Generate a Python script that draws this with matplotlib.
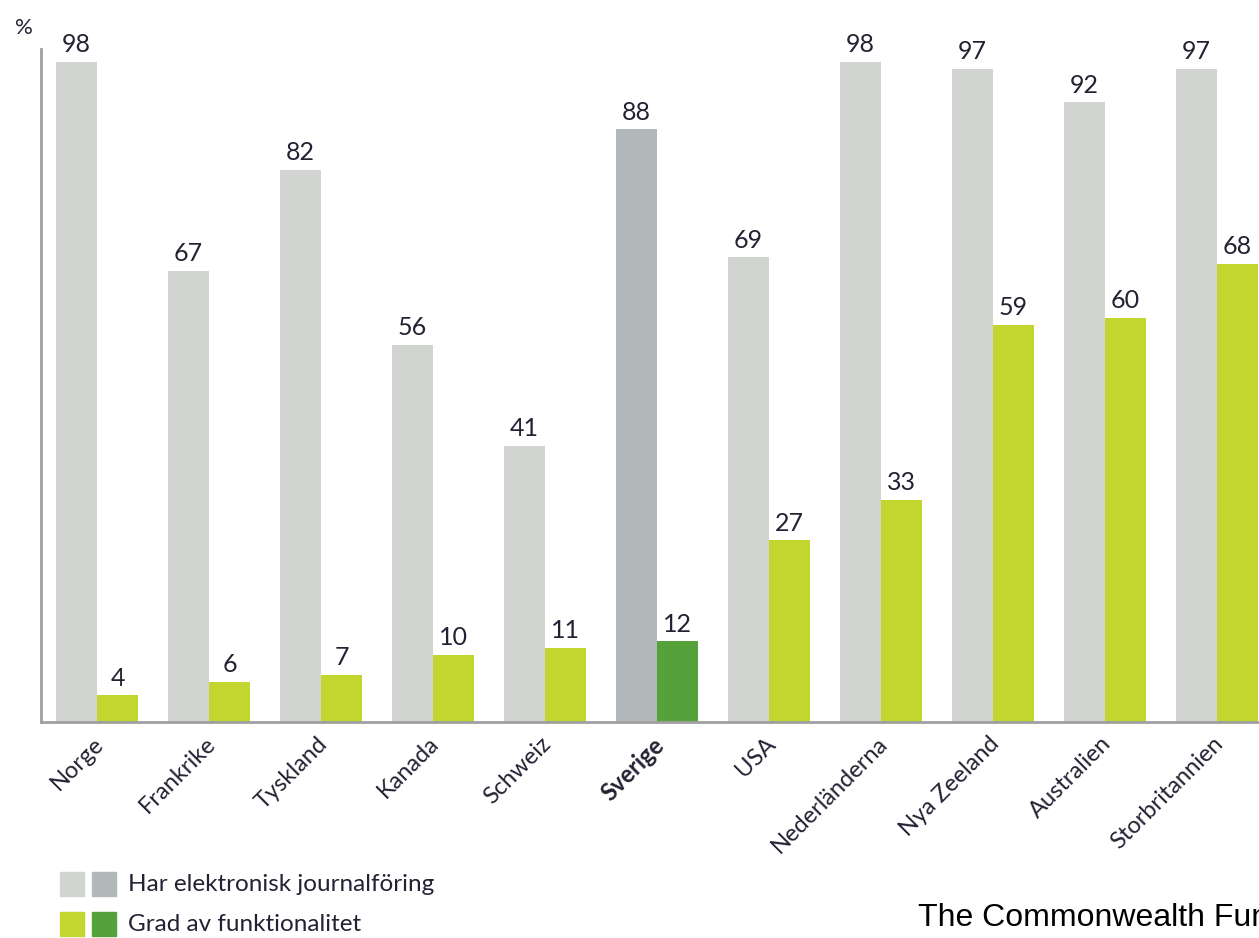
import matplotlib
matplotlib.use('Agg')
import matplotlib.pyplot as plt
from matplotlib.patches import Rectangle
import numpy as np

countries = ['Norge', 'Frankrike', 'Tyskland', 'Kanada', 'Schweiz', 'Sverige',
             'USA', 'Nederländerna', 'Nya Zeeland', 'Australien', 'Storbritannien']
har_ej = [98, 67, 82, 56, 41, 88, 69, 98, 97, 92, 97]
grad_funk = [4, 6, 7, 10, 11, 12, 27, 33, 59, 60, 68]
legend_labels = ['Har elektronisk journalföring', 'Grad av funktionalitet']
source = 'The Commonwealth Fund'
highlight = 'Sverige'

grey = '#d2d4d2'
grey_hl = '#b2b7b9'
green = '#c2d62f'
green_hl = '#55a23b'
txt = '#222233'

plt.rcParams['font.family'] = ['Lato', 'DejaVu Sans']

fig = plt.figure(figsize=(12.59, 9.38), dpi=100)
W, H = 1259, 938
ax = fig.add_axes([41 / W, 1 - 722 / H, (W - 41) / W, 673.5 / H])

x = np.arange(len(countries))
w = 41 / 112
grey_cols = [grey_hl if c == highlight else grey for c in countries]
green_cols = [green_hl if c == highlight else green for c in countries]
b1 = ax.bar(x - w / 2, har_ej, w, color=grey_cols)
b2 = ax.bar(x + w / 2, grad_funk, w, color=green_cols)

for bars, vals in ((b1, har_ej), (b2, grad_funk)):
    for r, v in zip(bars, vals):
        ax.annotate(str(v), (r.get_x() + r.get_width() / 2, v), xytext=(0, 4),
                    textcoords='offset points', ha='center', va='bottom',
                    fontsize=18, color=txt, annotation_clip=False)

ax.set_xlim(-0.5, 10.375)
ax.set_ylim(0, 100)
ax.set_yticks([])
ax.set_xticks(x - 0.04)
ax.set_xticklabels(countries, rotation=45, ha='right', rotation_mode='anchor',
                   fontsize=17, color=txt)
for lbl in ax.get_xticklabels():
    if lbl.get_text() == highlight:
        lbl.set_fontweight('bold')
ax.tick_params(axis='x', length=0, pad=8)
for s in ('top', 'right'):
    ax.spines[s].set_visible(False)
for s in ('left', 'bottom'):
    ax.spines[s].set_color('#a0a0a0')
    ax.spines[s].set_linewidth(2)

fig.text(15 / W, 1 - 34 / H, '%', fontsize=16, color=txt)

# legend
rows = [(grey, grey_hl), (green, green_hl)]
for i, (lab, (c1, c2)) in enumerate(zip(legend_labels, rows)):
    ytop = 872 + i * 40
    for j, c in enumerate((c1, c2)):
        fig.patches.append(Rectangle(((60 + j * 32) / W, 1 - (ytop + 24) / H),
                                     24 / W, 24 / H, color=c,
                                     transform=fig.transFigure))
    fig.text(128 / W, 1 - (ytop + 12) / H, lab, fontsize=17.5, color=txt,
             va='center')

# source note runs off the right edge, as in the reference
fig.text(918 / W, 1 - 926 / H, source, fontsize=23, family='Liberation Sans',
         color='black', va='baseline')

fig.savefig('out.png', dpi=100)
